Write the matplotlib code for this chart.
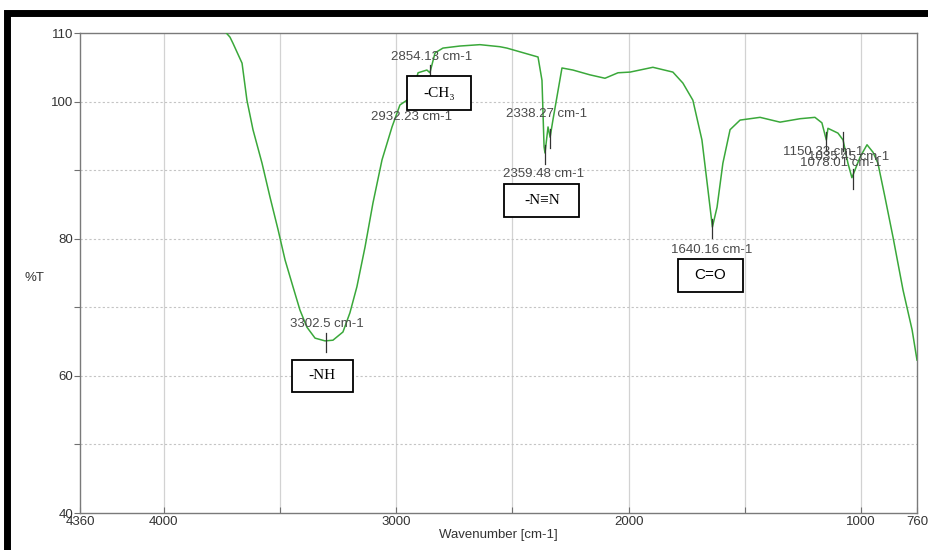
import matplotlib
matplotlib.use("Agg")
import matplotlib.pyplot as plt
import matplotlib.transforms as mtransforms
from matplotlib.patches import Rectangle

# FTIR spectrum (wavenumber cm-1, %T)
wavenumber = [3736, 3715, 3702, 3663, 3642, 3616, 3577, 3543, 3508, 3478,
              3444, 3414, 3384, 3349, 3306, 3272, 3229, 3199, 3169, 3134,
              3100, 3061, 3018, 2984, 2954, 2932, 2906, 2868, 2855, 2833,
              2799, 2726, 2640, 2554, 2524, 2390, 2373, 2364, 2360, 2347,
              2338, 2326, 2287, 2240, 2167, 2102, 2046, 1994, 1896, 1810,
              1767, 1724, 1685, 1659, 1640, 1620, 1595, 1564, 1521, 1435,
              1349, 1263, 1199, 1169, 1150, 1143, 1100, 1078, 1057, 1040,
              1027, 1005, 975, 949, 928, 898, 863, 820, 781, 760]
transmittance = [110.2, 109.4, 108.5, 105.6, 100.2, 95.9, 91.0, 86.1, 81.3, 76.9,
                 73.0, 69.6, 67.1, 65.5, 65.1, 65.2, 66.4, 69.2, 73.0, 78.8,
                 85.2, 91.5, 96.3, 99.5, 100.2, 101.0, 104.2, 104.6, 104.2, 107.1,
                 107.8, 108.1, 108.3, 108.0, 107.8, 106.5, 103.1, 93.4, 92.5, 96.3,
                 94.8, 97.3, 104.9, 104.6, 103.9, 103.4, 104.2, 104.3, 105.0, 104.3,
                 102.7, 100.2, 94.4, 87.1, 81.7, 84.6, 91.0, 95.9, 97.3, 97.7,
                 97.0, 97.5, 97.7, 96.9, 94.4, 96.1, 95.4, 94.4, 91.0, 88.9,
                 90.0, 91.9, 93.7, 92.6, 91.0, 86.1, 80.2, 72.5, 66.7, 62.3]

# picked peaks: position, %T at peak, label, label offset (px, up is +)
peak_wn = [3302.5, 2932.23, 2854.13, 2359.48, 2338.27, 1640.16, 1150.33, 1078.01, 1035.45]
peak_t = [65.1, 101.0, 104.2, 92.5, 94.8, 81.7, 94.4, 94.4, 88.9]
peak_labels = ["3302.5 cm-1", "2932.23 cm-1", "2854.13 cm-1", "2359.48 cm-1",
               "2338.27 cm-1", "1640.16 cm-1", "1150.33 cm-1", "1078.01 cm-1",
               "1035.45 cm-1"]
label_dx = [1, 0, 2, -2, -3, -1, -3, -2, -4]
label_dy = [17, -22, 16, -21, 23, -23, -12, -23, 21]

# group boxes
group_names = ["-NH", "-CH\u2083", "-N\u2261N", "C=O"]
group_wn = [3319, 2816, 2373, 1650]
group_t = [60.0, 101.25, 85.6, 74.7]
group_w = [61, 64, 75, 65]
group_h = [32, 34, 33, 33]
group_font = [["Liberation Serif", "DejaVu Serif"], ["Liberation Serif", "DejaVu Serif"],
              ["Liberation Serif", "DejaVu Serif"], ["Liberation Sans", "DejaVu Sans"]]

x_ticks = [4360, 4000, 3000, 2000, 1000, 760]
x_minor = [3500, 2500, 1500]
y_ticks = [40, 50, 60, 70, 80, 90, 100, 110]
y_labels = ["40", "", "60", "", "80", "", "100", "110"]

plt.rcParams["font.family"] = ["Liberation Sans", "DejaVu Sans"]

fig = plt.figure(figsize=(9.29, 5.5), dpi=100)
ax = fig.add_axes([80 / 929, 1 - 513 / 550, 837 / 929, 480 / 550])

# grid
for g in range(1000, 4001, 500):
    ax.axvline(g, color="#d2d2d2", lw=0.9, zorder=0)
for g in range(50, 101, 10):
    ax.axhline(g, color="#c4c4c4", lw=0.8, ls=(0, (2, 2)), zorder=0)

ax.plot(wavenumber, transmittance, color="#3aa83a", lw=1.1, zorder=3)

# peak picks
for wn, t, lab, dx, dy in zip(peak_wn, peak_t, peak_labels, label_dx, label_dy):
    ax.plot([wn, wn], [t + 1.2, t - 1.6], color="#333333", lw=0.9, zorder=4)
    ax.annotate(lab, (wn, t), xytext=(dx * 0.72, dy * 0.72), textcoords="offset points",
                ha="center", va="center", fontsize=9.5, color="#4a4a4a", zorder=5)

# group boxes
for name, wn, t, w, h, fam in zip(group_names, group_wn, group_t, group_w, group_h, group_font):
    tr = fig.dpi_scale_trans + mtransforms.ScaledTranslation(wn, t, ax.transData)
    ax.add_artist(Rectangle((-w / 200, -h / 200), w / 100, h / 100, transform=tr,
                            facecolor="white", edgecolor="black", lw=1.3, zorder=6,
                            clip_on=False))
    ax.text(wn, t, name, ha="center", va="center", fontsize=11, family=fam,
            color="black", zorder=7)

ax.set_xlim(4360, 760)
ax.set_ylim(40, 110)
ax.set_xticks(x_ticks)
ax.set_xticklabels([str(v) for v in x_ticks])
ax.set_xticks(x_minor, minor=True)
ax.set_yticks(y_ticks)
ax.set_yticklabels(y_labels)
ax.tick_params(axis="x", which="both", direction="in", length=4, width=0.8,
               color="#707070", labelsize=9.5, labelcolor="#333333", pad=2)
ax.tick_params(axis="y", direction="out", length=4, width=0.8,
               color="#707070", labelsize=9.5, labelcolor="#333333", pad=1)
for s in ax.spines.values():
    s.set_color("#7a7a7a")
    s.set_linewidth(1.0)

ax.set_xlabel("Wavenumber [cm-1]", fontsize=9.5, color="#333333", labelpad=1)
fig.text(34 / 929, 1 - 278 / 550, "%T", fontsize=9.5, color="#333333",
         ha="center", va="center")

# thick black frame around the picture
fig.add_artist(Rectangle((7.5 / 929, -0.2), 2, 1.2 - 12.5 / 550, transform=fig.transFigure,
                         fill=False, edgecolor="black", lw=5.0))

plt.savefig("out.png", dpi=100)
print("saved: out.png")
